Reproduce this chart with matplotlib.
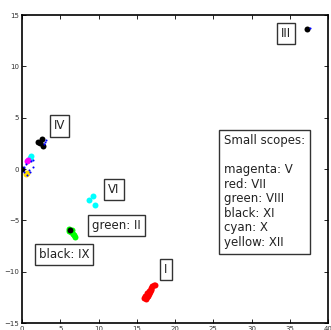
import matplotlib
matplotlib.use("Agg")
import matplotlib.pyplot as plt

# cluster points, per colour
red_x = [16.0, 16.1, 16.2, 16.3, 16.4, 16.5, 16.6, 16.7, 16.8, 16.9, 17.0, 17.2, 17.4, 16.3, 16.6, 16.9]
red_y = [-12.6, -12.4, -12.7, -12.3, -12.1, -12.4, -11.9, -12.0, -11.6, -11.8, -11.4, -11.3, -11.3, -12.5, -12.2, -11.7]

green_x = [6.1, 6.2, 6.4, 6.5, 6.6, 6.8, 6.9]
green_y = [-6.0, -5.8, -6.1, -5.9, -6.3, -6.4, -6.6]

cyan_x = [1.0, 1.2, 9.3, 8.8, 9.6]
cyan_y = [1.1, 1.3, -2.6, -3.0, -3.5]

magenta_x = [0.6, 0.8]
magenta_y = [0.8, 0.9]

black_x = [37.25, 2.3, 2.6, 2.7, 2.1, 0.0, 6.3]
black_y = [13.64, 2.5, 2.9, 2.2, 2.6, 0.0, -5.9]

yellow_x = [0.5, 0.6]
yellow_y = [-0.5, -0.4]

blue_x = [37.7, 3.0, 3.2, 2.9, 0.2, 0.5, 1.2, 1.0, 0.6, 1.4, 1.5, 0.9, 0.3]
blue_y = [13.75, 2.6, 2.8, 2.4, 0.2, 0.5, 0.8, -0.3, -0.6, 0.2, 0.9, -0.1, -0.3]

# labels: text, x, y
labels = ["III", "IV", "VI", "green: II", "black: IX", "I"]
label_x = [34.5, 4.9, 12.0, 12.3, 5.5, 18.8]
label_y = [13.2, 4.2, -2.0, -5.5, -8.3, -9.8]

legend_text = "Small scopes:\n\nmagenta: V\nred: VII\ngreen: VIII\nblack: XI\ncyan: X\nyellow: XII"

fig = plt.figure(figsize=(3.31, 3.30), dpi=100)
ax = fig.add_axes([0.0665, 0.0212, 0.9245, 0.933])

ms = 4.3
ax.plot(red_x, red_y, "o", color="red", ms=ms, mec="none")
ax.plot(green_x, green_y, "o", color="#00ff00", ms=ms, mec="none")
ax.plot(cyan_x, cyan_y, "o", color="cyan", ms=ms, mec="none")
ax.plot(magenta_x, magenta_y, "o", color="magenta", ms=ms, mec="none")
ax.plot(black_x, black_y, "o", color="black", ms=ms, mec="none")
ax.plot(yellow_x, yellow_y, "o", color="#ffdd00", ms=ms, mec="none")
ax.plot(blue_x, blue_y, "o", color="blue", ms=1.5, mec="none")

box = dict(boxstyle="square,pad=0.35", fc="white", ec="#333333", lw=1.0)
for t, x, y in zip(labels, label_x, label_y):
    ax.text(x, y, t, ha="center", va="center", fontsize=8.5, color="#222222", bbox=box)

ax.text(26.4, -2.2, legend_text, ha="left", va="center", fontsize=8.5,
        color="#222222", linespacing=1.15,
        bbox=dict(boxstyle="square,pad=0.4", fc="white", ec="#333333", lw=1.0))

ax.set_xlim(0, 40)
ax.set_ylim(-15, 15)
ax.set_xticks(range(0, 41, 5))
ax.set_yticks(range(-15, 16, 5))
ax.tick_params(direction="in", length=3, width=0.6, labelsize=5, labelcolor="#333333",
               top=True, right=True, pad=2)
for s in ax.spines.values():
    s.set_linewidth(1.2)

fig.savefig("out.png", dpi=100)
